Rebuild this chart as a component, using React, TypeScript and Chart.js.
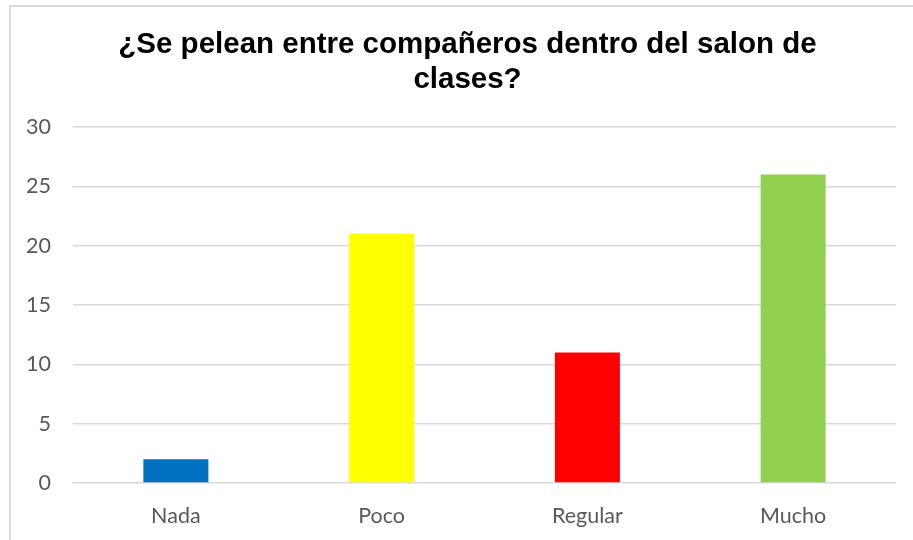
import React, { useEffect, useRef } from "react";
import { Chart, registerables } from "chart.js";

Chart.register(...registerables);

const categories = ["Nada", "Poco", "Regular", "Mucho"];
const values = [2, 21, 11, 26];
const barColors = ["#0070C0", "#FFFF00", "#FF0000", "#92D050"];
const titleLines = ["¿Se pelean entre compañeros dentro del salon de", "clases?"];

const titlePlugin = {
  id: "offsetTitle",
  afterDraw(chart: any) {
    const ctx = chart.ctx;
    ctx.save();
    ctx.fillStyle = "#000000";
    ctx.font = "bold 29.5px 'Liberation Sans', Arial, sans-serif";
    ctx.textAlign = "center";
    ctx.textBaseline = "middle";
    const lineH = 35.4;
    titleLines.forEach((line, i) => {
      ctx.fillText(line, 467.5, 44.7 + i * lineH);
    });
    ctx.restore();
  },
};

export default function App() {
  const ref = useRef<HTMLCanvasElement | null>(null);

  useEffect(() => {
    if (!ref.current) return;
    const chart = new Chart(ref.current, {
      type: "bar",
      data: {
        labels: categories,
        datasets: [
          {
            data: values,
            backgroundColor: barColors,
            borderWidth: 0,
            categoryPercentage: 1,
            barPercentage: 0.316,
          },
        ],
      },
      options: {
        animation: false,
        responsive: false,
        maintainAspectRatio: false,
        layout: { padding: { left: 0, right: 17, top: 127, bottom: 0 } },
        plugins: {
          legend: { display: false },
          tooltip: { enabled: false },
          title: { display: false },
        },
        scales: {
          x: {
            grid: { display: false, drawTicks: false },
            border: { display: false },
            ticks: {
              color: "#595959",
              font: { family: "Lato, 'Open Sans', sans-serif", size: 21.5 },
              padding: 20,
            },
            afterFit: (s: any) => {
              s.height = 57;
            },
          },
          y: {
            min: 0,
            max: 30,
            grid: { color: "#d9d9d9", lineWidth: 1.5, drawTicks: false },
            border: { display: false },
            ticks: {
              stepSize: 5,
              color: "#595959",
              font: { family: "Lato, 'Open Sans', sans-serif", size: 21.5 },
              padding: 22,
            },
            afterFit: (s: any) => {
              s.width = 73;
            },
          },
        },
      },
      plugins: [titlePlugin],
    });
    return () => chart.destroy();
  }, []);

  return (
    <div
      style={{
        position: "fixed",
        left: 0,
        top: 0,
        width: 913,
        height: 540,
        overflow: "hidden",
        background: "#ffffff",
      }}
    >
      <div
        style={{
          position: "absolute",
          left: 9,
          top: 5,
          width: 1000,
          height: 1000,
          borderTop: "2px solid #dcdcdc",
          borderLeft: "2px solid #dcdcdc",
        }}
      />
      <canvas
        ref={ref}
        width={913}
        height={540}
        style={{ position: "absolute", left: 0, top: 0, width: 913, height: 540 }}
      />
    </div>
  );
}
